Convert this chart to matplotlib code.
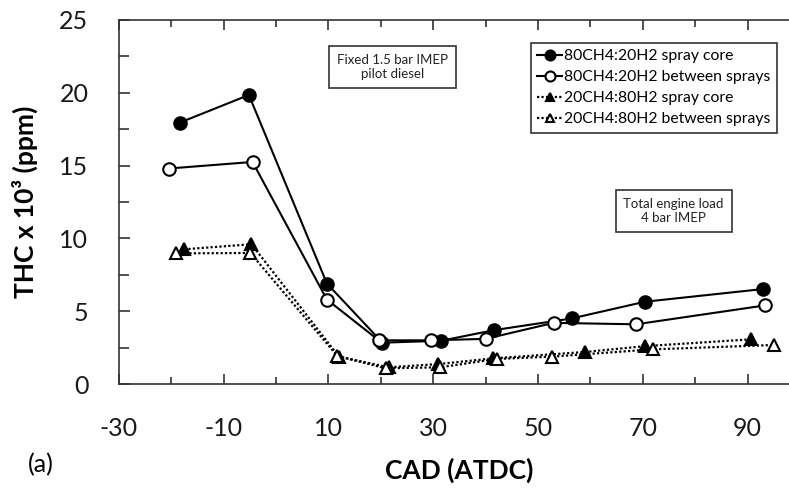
import matplotlib
matplotlib.use("Agg")
import matplotlib.pyplot as plt
from matplotlib.ticker import MultipleLocator

plt.rcParams['font.family'] = ['Lato', 'DejaVu Sans']
plt.rcParams['axes.unicode_minus'] = False

# THC vs injection timing, two fuel blends, two probe locations
cad_core_80 = [-18.4, -5.2, 9.7, 20.3, 31.5, 41.6, 56.4, 70.4, 92.9]
thc_core_80 = [17.95, 19.85, 6.9, 2.84, 2.97, 3.7, 4.5, 5.65, 6.52]

cad_betw_80 = [-20.5, -4.5, 9.7, 19.6, 29.6, 40.0, 53.0, 68.7, 93.4]
thc_betw_80 = [14.8, 15.25, 5.8, 3.0, 3.0, 3.1, 4.2, 4.1, 5.4]

cad_core_20 = [-17.6, -4.7, 12.0, 21.5, 31.0, 41.4, 59.0, 70.4, 90.7]
thc_core_20 = [9.25, 9.6, 1.88, 1.15, 1.37, 1.76, 2.2, 2.6, 3.07]

cad_betw_20 = [-19.1, -4.9, 11.7, 20.9, 31.3, 42.2, 52.6, 71.9, 95.0]
thc_betw_20 = [8.97, 9.0, 1.92, 1.08, 1.15, 1.72, 1.88, 2.38, 2.68]

labels = ["80CH4:20H2 spray core", "80CH4:20H2 between sprays",
          "20CH4:80H2 spray core", "20CH4:80H2 between sprays"]

fig = plt.figure(figsize=(7.89, 4.90), dpi=100)
# axes runs past the right edge of the figure
ax = fig.add_axes([0.1508, 0.2163, 0.863, 0.7429])

dots = (0, (1, 1))
ax.plot(cad_core_80, thc_core_80, '-', color='black', lw=1.5,
        marker='o', ms=9, mfc='black', mec='black', mew=1.5, label=labels[0])
ax.plot(cad_betw_80, thc_betw_80, '-', color='black', lw=1.5,
        marker='o', ms=9, mfc='white', mec='black', mew=1.5, label=labels[1])
ax.plot(cad_core_20, thc_core_20, linestyle=dots, color='black', lw=1.6,
        marker='^', ms=8, mfc='black', mec='black', mew=1.5, label=labels[2])
ax.plot(cad_betw_20, thc_betw_20, linestyle=dots, color='black', lw=1.6,
        marker='^', ms=8, mfc='white', mec='black', mew=1.5, label=labels[3])

ax.set_xlim(-30, 100)
ax.set_ylim(0, 25)
ax.xaxis.set_major_locator(MultipleLocator(20))
ax.xaxis.set_minor_locator(MultipleLocator(10))
ax.yaxis.set_major_locator(MultipleLocator(5))
ax.yaxis.set_minor_locator(MultipleLocator(2.5))
ax.set_xticks(range(-30, 101, 20))

ax.spines['right'].set_visible(False)
for s in ['left', 'bottom', 'top']:
    ax.spines[s].set_linewidth(1.2)
    ax.spines[s].set_color('#333333')

ax.tick_params(which='both', direction='in', top=True, right=False,
               color='#333333', width=1.2, labelcolor='#1a1a1a')
ax.tick_params(axis='x', which='major', length=7.5, pad=24, labelsize=18)
ax.tick_params(axis='x', which='minor', length=5)
ax.tick_params(axis='y', which='major', length=8, pad=22, labelsize=18)
ax.tick_params(axis='y', which='minor', length=7)

ax.set_xlabel("CAD (ATDC)", fontsize=19, fontweight='bold')
ax.set_ylabel("THC x 10³ (ppm)", fontsize=19, fontweight='bold')
ax.xaxis.set_label_coords(0.5, -0.203)
ax.yaxis.set_label_coords(-0.119, 0.5)

leg = ax.legend(loc='upper left', bbox_to_anchor=(0.605, 0.937),
                borderaxespad=0, fontsize=11.3, handlelength=1.6,
                handletextpad=0.1, labelspacing=0.45, fancybox=False,
                edgecolor='#333333', framealpha=1, borderpad=0.4,
                markerscale=0.8)
leg.get_frame().set_linewidth(1.2)

box = dict(boxstyle='square,pad=0.6', fc='white', ec='#333333', lw=1.2)
ax.text(22.3, 21.8, "Fixed 1.5 bar IMEP\npilot diesel", ha='center',
        va='center', fontsize=9.5, bbox=box, color='#222222')
ax.text(75.9, 11.9, "Total engine load\n4 bar IMEP", ha='center',
        va='center', fontsize=9.5, bbox=box, color='#222222')

fig.text(0.052, 0.051, "(a)", ha='center', va='center', fontsize=18)

fig.savefig("out.png", dpi=100)
